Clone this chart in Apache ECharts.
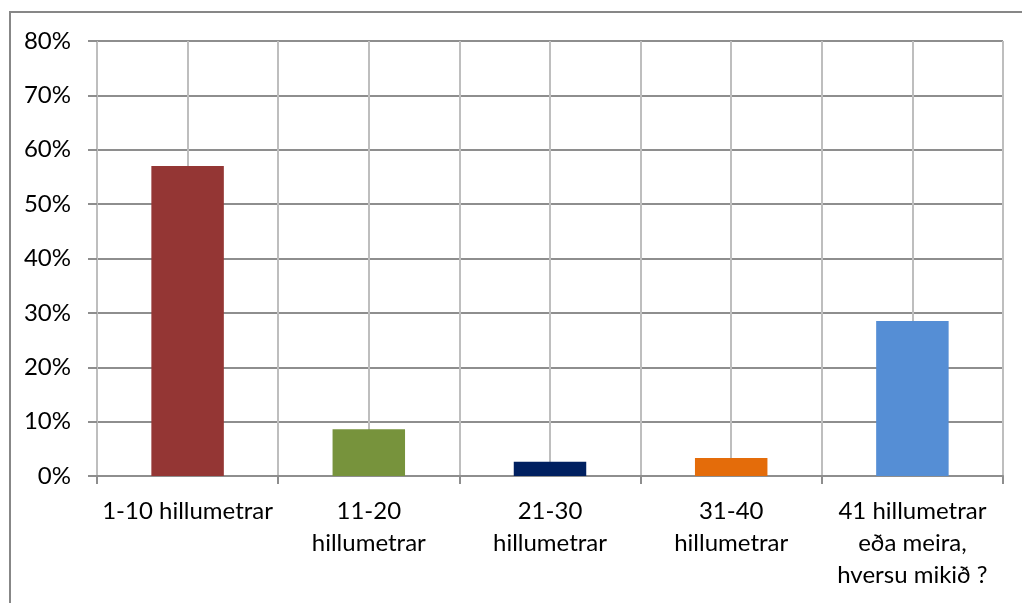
<!DOCTYPE html>
<html>
<head>
<meta charset="utf-8">
<script src="https://cdn.jsdelivr.net/npm/echarts@6/dist/echarts.min.js"></script>
<style>
  body { margin: 0; background: #fff; }
  .frame {
    position: absolute;
    left: 9px;
    top: 11px;
    width: 1100px;
    height: 700px;
    border: 2px solid #878787;
  }
  #chart {
    position: absolute;
    left: 0;
    top: 0;
    width: 1022px;
    height: 603px;
  }
</style>
</head>
<body>
<div class="frame"></div>
<div id="chart"></div>
<script>
// categories and values (percent)
const categories = [
  "1-10 hillumetrar",
  "11-20\nhillumetrar",
  "21-30\nhillumetrar",
  "31-40\nhillumetrar",
  "41 hillumetrar\neða meira,\nhversu mikið ?"
];
const values = [57.0, 8.6, 2.6, 3.3, 28.5];
const barColors = ["#943634", "#77933C", "#002060", "#E46C0A", "#558ED5"];

const myChart = echarts.init(document.getElementById("chart"));

const option = {
  animation: false,
  textStyle: { fontFamily: "Lato" },
  grid: { left: 97, right: 19, top: 41, bottom: 127 },
  xAxis: [
    {
      type: "category",
      data: categories,
      axisLine: { lineStyle: { color: "#8e8e8e", width: 2 } },
      axisTick: { show: true, length: 8, lineStyle: { color: "#8e8e8e", width: 2 } },
      axisLabel: {
        color: "#000",
        fontSize: 24,
        lineHeight: 32,
        margin: 19,
        interval: 0
      },
      splitLine: { show: false }
    },
    {
      // helper axis: vertical gridlines at every half category
      type: "value",
      position: "top",
      min: 0,
      max: 10,
      interval: 1,
      axisLine: { show: false },
      axisTick: { show: false },
      axisLabel: { show: false },
      splitLine: { show: true, lineStyle: { color: "#bebebe", width: 2 } }
    }
  ],
  yAxis: {
    type: "value",
    min: 0,
    max: 80,
    interval: 10,
    axisLine: { show: false },
    axisTick: { show: true, inside: false, length: 9, lineStyle: { color: "#8e8e8e", width: 2 } },
    axisLabel: {
      formatter: "{value}%",
      color: "#000",
      fontSize: 24,
      margin: 26
    },
    splitLine: { show: true, lineStyle: { color: "#8e8e8e", width: 2 } }
  },
  series: [
    {
      type: "bar",
      xAxisIndex: 0,
      barWidth: "40%",
      data: values.map((v, i) => ({ value: v, itemStyle: { color: barColors[i] } }))
    }
  ]
};

option && myChart.setOption(option);
</script>
</body>
</html>
